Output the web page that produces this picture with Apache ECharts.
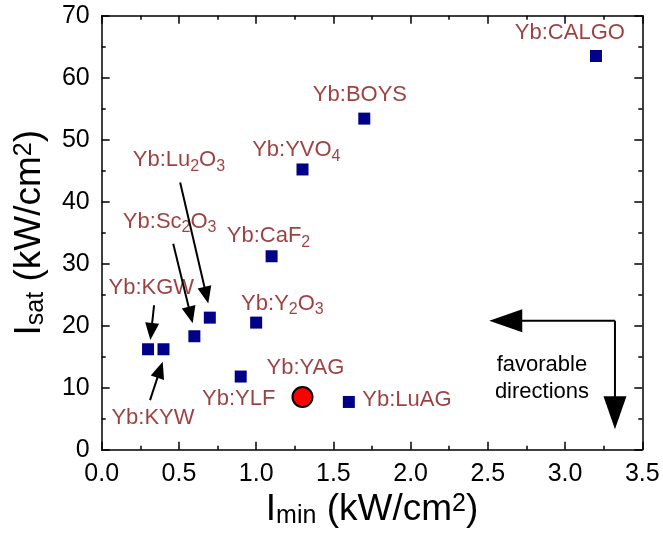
<!DOCTYPE html>
<html>
<head>
<meta charset="utf-8">
<script src="https://cdn.jsdelivr.net/npm/echarts@6/dist/echarts.min.js"></script>
<style>
  html, body { margin: 0; padding: 0; background: #fff; }
  #chart { width: 663px; height: 541px; }
</style>
</head>
<body>
<div id="chart"></div>
<script>
// Yb-doped gain media: minimum pump intensity vs saturation intensity
const crystals = ['KGW', 'KYW', 'Sc2O3', 'Lu2O3', 'YLF', 'Y2O3', 'CaF2', 'YVO4', 'LuAG', 'BOYS', 'CALGO'];
const iMin     = [0.3,   0.4,   0.6,     0.7,     0.9,   1.0,    1.1,    1.3,    1.6,    1.7,    3.2];
const iSat     = [16.2,  16.2,  18.3,    21.3,    11.8,  20.5,   31.2,   45.2,   7.7,    53.4,   63.5];

// Yb:YAG reference point
const yagMin = 1.3;
const yagSat = 8.5;

// Axis ticks
const xTicks = [0, 0.5, 1, 1.5, 2, 2.5, 3, 3.5];
const yTicks = [0, 10, 20, 30, 40, 50, 60, 70];

// Label texts (rich-text markup) and their anchor points in data units
const labelTexts = {
  CALGO: 'Yb:CALGO', BOYS: 'Yb:BOYS', YVO4: 'Yb:YVO{s|4}', Lu2O3: 'Yb:Lu{s|2}O{s|3}',
  Sc2O3: 'Yb:Sc{s|2}O{s|3}', CaF2: 'Yb:CaF{s|2}', KGW: 'Yb:KGW', Y2O3: 'Yb:Y{s|2}O{s|3}',
  YAG: 'Yb:YAG', YLF: 'Yb:YLF', LuAG: 'Yb:LuAG', KYW: 'Yb:KYW'
};
const labelAnchors = {
  CALGO: [3.031, 67.2], BOYS: [1.672, 57.2], YVO4: [1.26, 48.3], Lu2O3: [0.50, 46.7],
  Sc2O3: [0.44, 36.8], CaF2: [1.08, 34.4], KGW: [0.321, 26.1], Y2O3: [1.17, 23.5],
  YAG: [1.319, 13.2], YLF: [0.887, 8.2], LuAG: [1.976, 8.0], KYW: [0.332, 5.1]
};

// Pointer arrows: [start, tip] in data units
const pointerArrows = [
  [[0.508, 43.1], [0.690, 23.6]],
  [[0.463, 33.2], [0.589, 20.4]],
  [[0.339, 23.3], [0.315, 17.7]],
  [[0.313, 8.0],  [0.395, 14.2]]
];
// "favorable directions" corner and tips
const favCorner = [3.323, 20.8];
const favLeft   = [2.509, 20.8];
const favDown   = [3.323, 3.3];

const labelColor = '#841010';
const font = 'Liberation Sans, Arial, sans-serif';

const chart = echarts.init(document.getElementById('chart'), null, { renderer: 'canvas' });

function axisCommon(showLabels) {
  return {
    axisLine: { show: true, onZero: false, lineStyle: { color: '#000', width: 1.5 } },
    axisTick: { show: true, inside: true, length: 8, lineStyle: { color: '#000', width: 1.5 } },
    minorTick: { show: true, splitNumber: 2, length: 4, lineStyle: { color: '#000', width: 1.5 } },
    splitLine: { show: false },
    axisLabel: {
      show: showLabels, color: '#000', fontFamily: font, fontSize: 25
    }
  };
}

// Subscript: a tall token whose text is pushed down by top padding
const richSub = {
  s: { fontSize: 16, fontFamily: font, color: labelColor, verticalAlign: 'top', lineHeight: 32, padding: [14, 0, 0, 0] }
};

const titleRich = {
  b: { fontSize: 37, fontFamily: font, color: '#000' },
  sub: { fontSize: 25, fontFamily: font, color: '#000', verticalAlign: 'bottom', lineHeight: 10 },
  sup: { fontSize: 25, fontFamily: font, color: '#000', verticalAlign: 'top', lineHeight: 14 }
};

const labelData = Object.keys(labelAnchors).map(k => ({
  value: labelAnchors[k],
  label: { formatter: labelTexts[k] }
}));

const option = {
  animation: false,
  backgroundColor: '#fff',
  grid: { left: 101.7, right: 20.7, top: 15.7, bottom: 91.3 },
  xAxis: [
    Object.assign(axisCommon(true), {
      type: 'value', position: 'bottom', min: xTicks[0], max: xTicks[xTicks.length - 1], interval: 0.5,
      axisLabel: Object.assign(axisCommon(true).axisLabel, { margin: 12, formatter: v => v.toFixed(1) }),
      name: '{b|I}{sub|min}{b| (kW/cm}{sup|2}{b|)}',
      nameLocation: 'middle', nameGap: 42,
      nameTextStyle: { rich: titleRich }
    }),
    Object.assign(axisCommon(false), {
      type: 'value', position: 'top', min: 0, max: 3.5, interval: 0.5
    })
  ],
  yAxis: [
    Object.assign(axisCommon(true), {
      type: 'value', position: 'left', min: yTicks[0], max: yTicks[yTicks.length - 1], interval: 10,
      axisLabel: Object.assign(axisCommon(true).axisLabel, { margin: 12 }),
      name: '{b|I}{sub|sat}{b| (kW/cm}{sup|2}{b|)}',
      nameLocation: 'middle', nameGap: 53,
      nameTextStyle: { rich: titleRich }
    }),
    Object.assign(axisCommon(false), {
      type: 'value', position: 'right', min: 0, max: 70, interval: 10
    })
  ],
  series: [
    {
      name: 'Yb-doped crystals',
      type: 'scatter',
      symbol: 'rect',
      symbolSize: 12,
      itemStyle: { color: '#000088', opacity: 1 },
      data: iMin.map((x, i) => [x, iSat[i]]),
      z: 3
    },
    {
      name: 'Yb:YAG',
      type: 'scatter',
      symbol: 'circle',
      symbolSize: 20,
      itemStyle: { color: '#ff0000', borderColor: '#000', borderWidth: 2, opacity: 1 },
      data: [[yagMin, yagSat]],
      z: 4
    },
    {
      name: 'labels',
      type: 'scatter',
      symbolSize: 0,
      silent: true,
      label: {
        show: true, position: 'inside',
        color: labelColor, fontFamily: font, fontSize: 22,
        rich: richSub
      },
      data: labelData,
      z: 5
    }
  ]
};

chart.setOption(option);

// Arrows drawn in pixel space from data-space endpoints
function arrowShapes(start, tip, headLen, headWidth, lineW) {
  const p0 = chart.convertToPixel({ gridIndex: 0 }, start);
  const p1 = chart.convertToPixel({ gridIndex: 0 }, tip);
  const dx = p1[0] - p0[0], dy = p1[1] - p0[1];
  const len = Math.sqrt(dx * dx + dy * dy);
  const ux = dx / len, uy = dy / len;
  const bx = p1[0] - ux * headLen, by = p1[1] - uy * headLen;
  const nx = -uy, ny = ux;
  return [
    {
      type: 'line', silent: true, z: 10,
      shape: { x1: p0[0], y1: p0[1], x2: bx + ux * 2, y2: by + uy * 2 },
      style: { stroke: '#000', lineWidth: lineW }
    },
    {
      type: 'polygon', silent: true, z: 10,
      shape: { points: [[p1[0], p1[1]], [bx + nx * headWidth / 2, by + ny * headWidth / 2], [bx - nx * headWidth / 2, by - ny * headWidth / 2]] },
      style: { fill: '#000' }
    }
  ];
}

function drawAnnotations() {
  let elements = [];
  pointerArrows.forEach(a => { elements = elements.concat(arrowShapes(a[0], a[1], 17, 14, 2)); });
  // favorable directions: an L-shaped pair of arrows
  const c = chart.convertToPixel({ gridIndex: 0 }, favCorner);
  elements = elements.concat(arrowShapes(favCorner, favLeft, 33, 23, 2));
  elements = elements.concat(arrowShapes(favCorner, favDown, 33, 23, 2));
  elements.push({
    type: 'text', silent: true, z: 10,
    x: c[0] - 73, y: c[1] + 58,
    style: {
      text: 'favorable\ndirections', fill: '#000', font: '22px ' + font,
      align: 'center', verticalAlign: 'middle', lineHeight: 27
    }
  });
  chart.setOption({ graphic: { elements: elements } });
}
drawAnnotations();
</script>
</body>
</html>
